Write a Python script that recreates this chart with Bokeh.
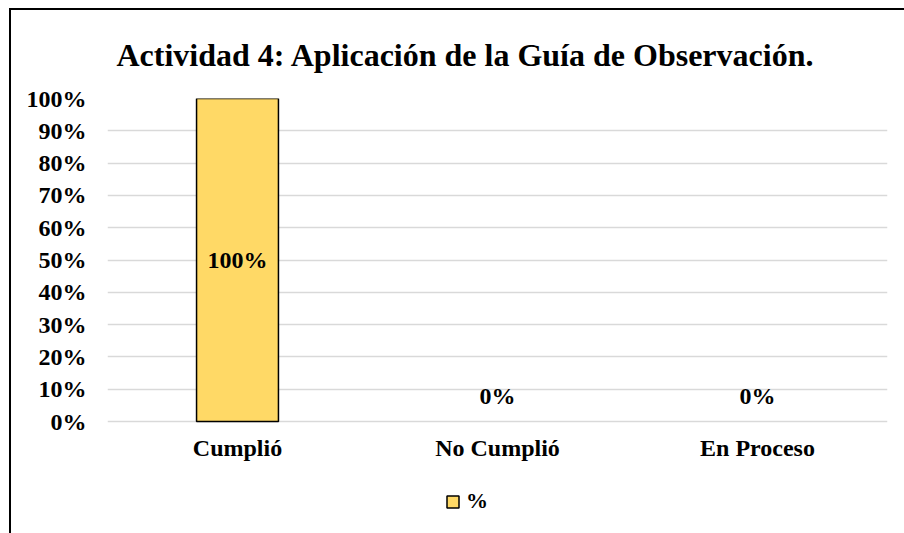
from bokeh.plotting import figure
from bokeh.models import (FactorRange, Range1d, FixedTicker, NumeralTickFormatter,
                          Legend, LegendItem, ColumnDataSource)
from bokeh.core.properties import value
from bokeh.embed import file_html
from bokeh.resources import INLINE

title_text = "Actividad 4: Aplicación de la Guía de Observación."
categories = ["Cumplió", "No Cumplió", "En Proceso"]
values = [1.0, 0.0, 0.0]
series_name = "%"
y_ticks = [0.0, 0.1, 0.2, 0.3, 0.4, 0.5, 0.6, 0.7, 0.8, 0.9, 1.0]

FONT = "Liberation Serif"
BAR = "#FFD966"

# plot area runs from 0 % (421 px) to 100 % (98 px); it is extended below 0 so that
# the legend (below the category labels) lies inside the drawable frame
Y_START = -104 / 323

p = figure(width=904, height=533, output_backend="svg", toolbar_location=None,
           x_range=FactorRange(*categories, range_padding=0),
           y_range=Range1d(Y_START, 1),
           min_border_left=107, min_border_right=17, min_border_top=98, min_border_bottom=8)
# chart-area frame (left and top edges) drawn behind a transparent canvas
p.styles = {"background": ("linear-gradient(#000, #000) 9px 8px / 2px 525px no-repeat, "
                           "linear-gradient(#000, #000) 9px 8px / 895px 2px no-repeat, #fff")}
p.border_fill_alpha = 0

p.title.text = title_text
p.title.align = "left"
p.title.offset = 9
p.title.text_font = FONT
p.title.text_font_style = "bold"
p.title.text_font_size = "32px"
p.title.standoff = 52
p.title.text_color = "black"

p.outline_line_color = None
p.background_fill_color = "white"

bar_src = ColumnDataSource(dict(x=categories, top=values,
                                la=[1.0 if v > 0 else 0.0 for v in values]))
r = p.vbar(x="x", top="top", bottom=0, width=0.315, source=bar_src, fill_color=BAR,
           line_color="black", line_width=1.5, line_alpha="la")

# data labels
lab_src = ColumnDataSource(dict(
    x=[c for c, v in zip(categories, values) if v > 0],
    y=[v / 2 for v in values if v > 0],
    t=[f"{v:.0%}" for v in values if v > 0]))
zero_src = ColumnDataSource(dict(
    x=[c for c, v in zip(categories, values) if v == 0],
    y=[v for v in values if v == 0],
    t=[f"{v:.0%}" for v in values if v == 0]))
for src, yo in ((lab_src, 0), (zero_src, -26)):
    p.text(x="x", y="y", text="t", source=src, text_align="center",
           text_baseline="middle", y_offset=yo, text_font=value(FONT),
           text_font_style="bold", text_font_size="24px", text_color="black")

# axes
p.yaxis.ticker = FixedTicker(ticks=y_ticks)
p.yaxis.formatter = NumeralTickFormatter(format="0%")
for ax in (p.xaxis[0], p.yaxis[0]):
    ax.axis_line_color = None
    ax.major_tick_line_color = None
    ax.minor_tick_line_color = None
    ax.major_label_text_font = FONT
    ax.major_label_text_font_style = "bold"
    ax.major_label_text_font_size = "24px"
    ax.major_label_text_color = "black"
p.yaxis.major_label_standoff = 15
# category labels sit just under the 0 % line
p.xaxis.major_label_standoff = -97

p.xgrid.grid_line_color = None
p.ygrid.ticker = FixedTicker(ticks=y_ticks)
p.ygrid.grid_line_color = "#d9d9d9"
p.ygrid.grid_line_width = 1.5

legend = Legend(items=[LegendItem(label=series_name, renderers=[r])],
                location=(338, 11), orientation="horizontal",
                padding=0, margin=0, spacing=0,
                glyph_width=15, glyph_height=15, label_standoff=6,
                label_text_font=FONT, label_text_font_style="bold",
                label_text_font_size="22px", label_text_color="black",
                border_line_color=None, background_fill_alpha=0)
p.add_layout(legend, "center")

open("out.html", "w").write(file_html(p, INLINE))
